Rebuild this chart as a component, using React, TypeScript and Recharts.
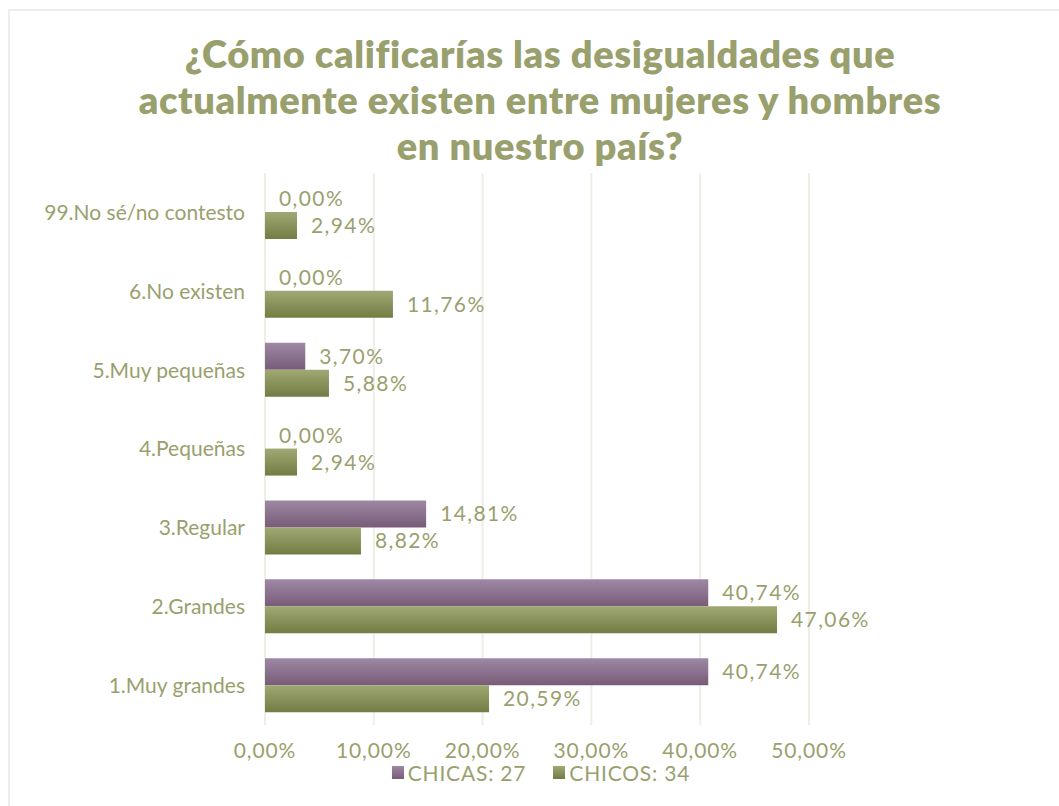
import React from 'react';
import { BarChart, Bar, XAxis, YAxis, CartesianGrid, LabelList } from 'recharts';

const categories = ['99.No sé/no contesto', '6.No existen', '5.Muy pequeñas', '4.Pequeñas', '3.Regular', '2.Grandes', '1.Muy grandes'];
const chicas = [0, 0, 3.7, 0, 14.81, 40.74, 40.74];
const chicos = [2.94, 11.76, 5.88, 2.94, 8.82, 47.06, 20.59];
const xTicks = [0, 10, 20, 30, 40, 50];
const seriesNames = ['CHICAS: 27', 'CHICOS: 34'];
const titleLines = ['¿Cómo calificarías las desigualdades que', 'actualmente existen entre mujeres y hombres', 'en nuestro país?'];

const data = categories.map((c, i) => ({ cat: c, chicas: chicas[i], chicos: chicos[i] }));

const TEXT = '#9A9F6E';
const FONT = 'Lato, "Open Sans", sans-serif';
const fmt = (v: number) => `${Number(v).toFixed(2).replace('.', ',')}%`;

const ValueLabel = (props: any) => {
  const { x, y, width, height, value } = props;
  if (value === undefined || value === null) return null;
  return (
    <text
      x={Number(x) + Number(width) + 14}
      y={Number(y) + Number(height) / 2}
      dy="0.36em"
      fill={TEXT}
      fontSize={21}
      fontFamily={FONT}
      letterSpacing={1.4}
      textAnchor="start"
    >
      {fmt(value)}
    </text>
  );
};

export default function App() {
  return (
    <div style={{ position: 'absolute', left: 0, top: 0, width: 1059, height: 806, background: '#fff', overflow: 'hidden', fontFamily: FONT }}>
      <div style={{ position: 'absolute', left: 8, top: 9, width: 1051, height: 797, borderTop: '2px solid #EEEEE8', borderLeft: '2px solid #EEEEE8' }} />
      <div style={{ position: 'absolute', left: 0, top: 30, width: 1080, textAlign: 'center', color: TEXT, fontWeight: 800, fontSize: 38, letterSpacing: 0.6, lineHeight: '46px', fontFamily: FONT }}>
        {titleLines.map((l) => (
          <div key={l}>{l}</div>
        ))}
      </div>
      <div style={{ position: 'absolute', left: 0, top: 0 }}>
        <BarChart
          width={1059}
          height={806}
          data={data}
          layout="vertical"
          margin={{ top: 173, right: 250, bottom: 41, left: 0 }}
          barGap={0}
          barCategoryGap={12}
        >
          <defs>
            <linearGradient id="gPurple" x1="0" y1="0" x2="0" y2="1">
              <stop offset="0%" stopColor="#9E88A4" />
              <stop offset="100%" stopColor="#785C78" />
            </linearGradient>
            <linearGradient id="gGreen" x1="0" y1="0" x2="0" y2="1">
              <stop offset="0%" stopColor="#A0A874" />
              <stop offset="100%" stopColor="#737C43" />
            </linearGradient>
          </defs>
          <CartesianGrid horizontal={false} stroke="#EEEEE6" strokeWidth={2} />
          <XAxis
            type="number"
            domain={[0, 50]}
            ticks={xTicks}
            tickFormatter={fmt}
            axisLine={false}
            tickLine={false}
            tickSize={0}
            tickMargin={18}
            height={40}
            tick={{ fill: TEXT, fontSize: 21, fontFamily: FONT, letterSpacing: 0.9 }}
            interval={0}
          />
          <YAxis
            type="category"
            dataKey="cat"
            width={265}
            axisLine={false}
            tickLine={false}
            tickSize={0}
            tickMargin={20}
            tick={{ fill: TEXT, fontSize: 21, fontFamily: FONT }}
            interval={0}
          />
          <Bar dataKey="chicas" fill="url(#gPurple)" barSize={27} minPointSize={0.01} isAnimationActive={false}>
            <LabelList dataKey="chicas" content={ValueLabel} />
          </Bar>
          <Bar dataKey="chicos" fill="url(#gGreen)" barSize={27} minPointSize={0.01} isAnimationActive={false}>
            <LabelList dataKey="chicos" content={ValueLabel} />
          </Bar>
        </BarChart>
      </div>
      <div style={{ position: 'absolute', top: 760, left: 0, width: 1082, display: 'flex', justifyContent: 'center', alignItems: 'center', color: TEXT, fontSize: 21, letterSpacing: 0.8, fontFamily: FONT }}>
        <span style={{ display: 'inline-block', width: 12, height: 13, background: 'linear-gradient(#9E88A4,#785C78)', marginRight: 4 }} />
        <span style={{ marginRight: 27 }}>{seriesNames[0]}</span>
        <span style={{ display: 'inline-block', width: 12, height: 13, background: 'linear-gradient(#A0A874,#737C43)', marginRight: 4 }} />
        <span>{seriesNames[1]}</span>
      </div>
    </div>
  );
}
